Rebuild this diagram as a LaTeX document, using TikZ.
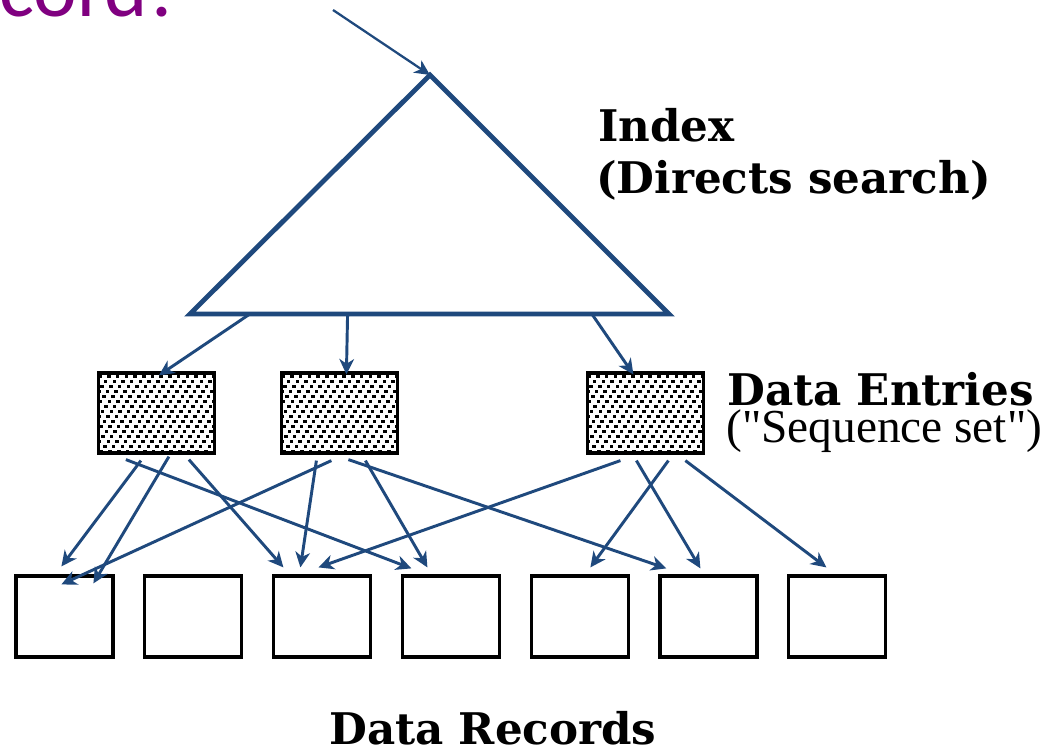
\documentclass[tikz,border=0pt]{standalone}
\usepackage{fontspec}
\setmainfont{Liberation Serif}
\newfontfamily\bookfont{DejaVu Serif}
\newfontfamily\seqfont[Ligatures=TeXOff]{Liberation Serif}
\newfontfamily\titlefont{Carlito}
\usetikzlibrary{arrows.meta,calc}
\definecolor{arrblue}{HTML}{1F497D}
\definecolor{ttlpurple}{RGB}{128,0,128}
\begin{document}
\begin{tikzpicture}[x=0.75pt,y=-0.75pt,
  conn/.style={arrblue, line width=2.2pt, -{Stealth[length=11.5pt,width=11pt,inset=3.5pt]}},
  entrybox/.style={draw=black, line width=2.4pt, fill=white, minimum width=87pt, minimum height=60pt, inner sep=0pt,
    path picture={
      \foreach \rr in {0,...,16}{
        \pgfmathsetmacro\off{mod(\rr*5.3,8.7)-8.7}
        \foreach \cc in {0,...,15}{
          \fill[black,draw=none] ($(path picture bounding box.north west)+(\off+\cc*8.7,1.5+\rr*5)$) rectangle ++(3.5,3.5);
        }
      }
    }},
  recbox/.style={draw=black, line width=2.4pt, fill=white, minimum width=72.75pt, minimum height=60.75pt, inner sep=0pt},
  bigbold/.style={font=\bookfont\bfseries\fontsize{32.7}{38}\selectfont, inner sep=0pt, anchor=base west},
  seqlbl/.style={font=\seqfont\fontsize{35.5}{40}\selectfont, inner sep=0pt, anchor=base west},
  ttl/.style={font=\titlefont\fontsize{62}{70}\selectfont, text=ttlpurple, inner sep=0pt, anchor=base west}
]
\useasboundingbox (0,0) rectangle (1047,749);
\fill[white] (0,0) rectangle (1047,749);

% title fragment
\node[ttl] (title) at (-1,17) {cord!};

% index triangle
\coordinate (apex) at (430,75);
\coordinate (bl) at (190,314);
\coordinate (br) at (669,314);
\coordinate (src) at (333,10);
\draw[arrblue, line width=3.6pt, line join=miter] (apex) -- (bl) -- (br) -- cycle;
\draw[conn, line width=1.7pt] (src) -- (apex);

% data entries
\node[entrybox] (e1) at (156.5,413) {};
\node[entrybox] (e2) at (339.5,413) {};
\node[entrybox] (e3) at (645.5,413) {};

% data records
\foreach \i/\xx in {1/64.5,2/193.3,3/322.1,4/450.9,5/579.7,6/708.5,7/837.3}
  \node[recbox] (r\i) at (\xx,616.5) {};

% index -> entries
\draw[conn] ($(bl)!0.125!(br)$) -- ($(e1.north west)+(62,4)$);
\draw[conn] ($(bl)!0.329!(br)$) -- ($(e2.north west)+(66.5,3)$);
\draw[conn] ($(bl)!0.839!(br)$) -- ($(e3.north west)+(47.5,3)$);

% entries -> records
\draw[conn] ($(e1.south west)+(44,6)$) -- ($(r1.north west)+(47,-8)$);
\draw[conn] ($(e1.south west)+(72,2)$) -- ($(r1.north west)+(79,9)$);
\draw[conn] ($(e1.south west)+(29,5)$) -- ($(r4.north west)+(10.6,-6)$);
\draw[conn] ($(e1.south west)+(92,5)$) -- ($(r3.north west)+(11.4,-7)$);

\draw[conn] ($(e2.south west)+(51.5,6)$) -- ($(r1.north west)+(47,10)$);
\draw[conn] ($(e2.south west)+(36.5,6)$) -- ($(r3.north west)+(28.4,-7)$);
\draw[conn] ($(e2.south west)+(85.5,6)$) -- ($(r4.north west)+(26.6,-7)$);
\draw[conn] ($(e2.south west)+(68.5,5)$) -- ($(r6.north west)+(8,-6)$);

\draw[conn] ($(e3.south west)+(34.5,6)$) -- ($(r3.north west)+(46.4,-7)$);
\draw[conn] ($(e3.south west)+(82.5,6)$) -- ($(r5.north west)+(60.8,-7)$);
\draw[conn] ($(e3.south west)+(50.5,6)$) -- ($(r6.north west)+(42,-6)$);
\draw[conn] ($(e3.south west)+(99.5,6)$) -- ($(r7.north west)+(39.2,-7)$);

% labels
\node[bigbold] (lidx) at (598,142) {Index};
\node[bigbold] (ldir) at (596,193) {(Directs search)};
\node[bigbold] (lde) at (727,405) {Data Entries};
\node[seqlbl] (lseq) at (726,442) {("Sequence set")};
\node[bigbold] (ldr) at (329,744) {Data Records};
\end{tikzpicture}
\end{document}
